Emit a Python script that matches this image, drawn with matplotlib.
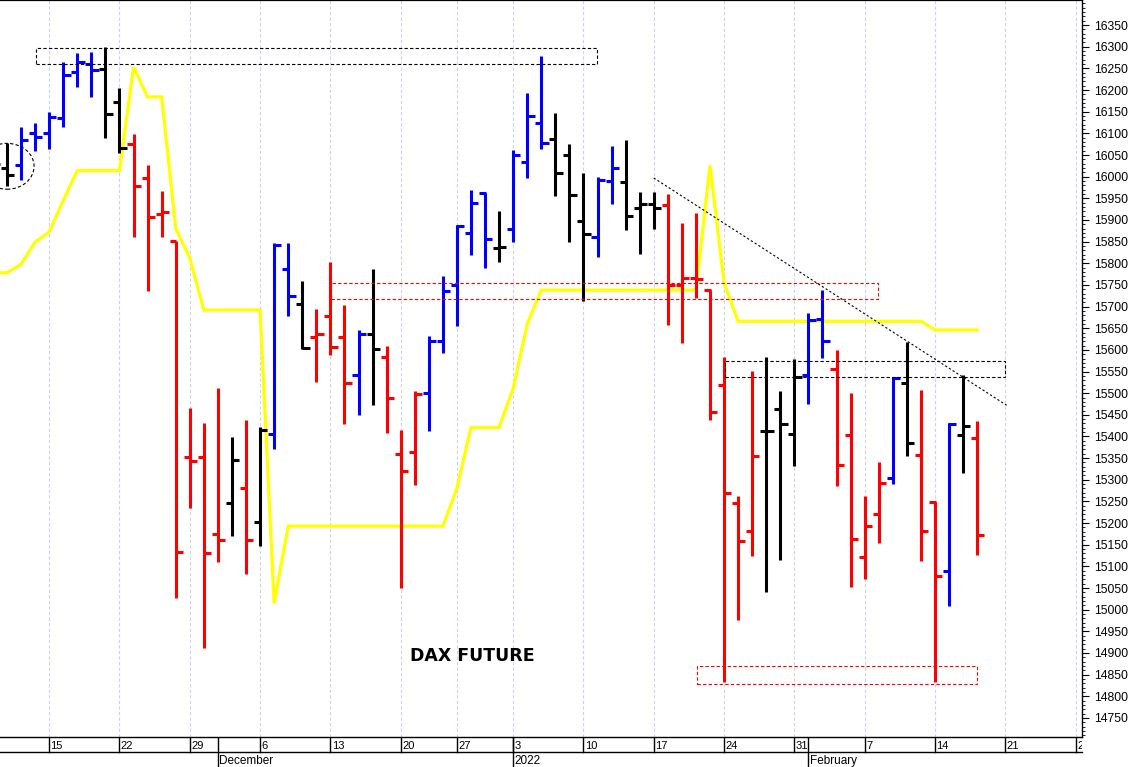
import numpy as np
import pandas as pd
import matplotlib
matplotlib.use('Agg')
import matplotlib.pyplot as plt
from matplotlib.collections import LineCollection
from matplotlib.patches import Rectangle, Ellipse
from matplotlib.ticker import MultipleLocator, FixedLocator

plt.rcParams['font.family'] = ['Liberation Sans', 'DejaVu Sans']

# ---------------- data ----------------
dates = [
    '2021-11-09', '2021-11-10', '2021-11-11', '2021-11-12',
    '2021-11-15', '2021-11-16', '2021-11-17', '2021-11-18', '2021-11-19',
    '2021-11-22', '2021-11-23', '2021-11-24', '2021-11-25', '2021-11-26',
    '2021-11-29', '2021-11-30', '2021-12-01', '2021-12-02', '2021-12-03',
    '2021-12-06', '2021-12-07', '2021-12-08', '2021-12-09', '2021-12-10',
    '2021-12-13', '2021-12-14', '2021-12-15', '2021-12-16', '2021-12-17',
    '2021-12-20', '2021-12-21', '2021-12-22', '2021-12-23',
    '2021-12-27', '2021-12-28', '2021-12-29', '2021-12-30',
    '2022-01-03', '2022-01-04', '2022-01-05', '2022-01-06', '2022-01-07',
    '2022-01-10', '2022-01-11', '2022-01-12', '2022-01-13', '2022-01-14',
    '2022-01-17', '2022-01-18', '2022-01-19', '2022-01-20', '2022-01-21',
    '2022-01-24', '2022-01-25', '2022-01-26', '2022-01-27', '2022-01-28',
    '2022-01-31', '2022-02-01', '2022-02-02', '2022-02-03', '2022-02-04',
    '2022-02-07', '2022-02-08', '2022-02-09', '2022-02-10', '2022-02-11',
    '2022-02-14', '2022-02-15', '2022-02-16', '2022-02-17',
]
opens = [
    16000, 16020, 16027, 16101,
    16102, 16135, 16242, 16260, 16248,
    16173, 16075, 15998, 15914, 15851,
    15353, 15353, 15175, 15246, 15280,
    15202, 15406, 15786, 15706, 15630,
    15678, 15630, 15542, 15637, 15584,
    15359, 15365, 15501, 15620,
    15750, 15869, 15963, 15835,
    15880, 16034, 16123, 16087, 16051,
    15897, 15860, 15990, 15987, 15927,
    15937, 15934, 15750, 15767, 15739,
    15518, 15246, 15181, 15412, 15463,
    15406, 15543, 15672, 15556, 15403,
    15122, 15221, 15304, 15524, 15357,
    15249, 15089, 15403, 15396,
]
highs = [
    16060, 16077, 16115, 16124,
    16150, 16265, 16285, 16288, 16300,
    16204, 16098, 16028, 15968, 15851,
    15465, 15430, 15511, 15398, 15438,
    15422, 15847, 15846, 15760, 15694,
    15802, 15703, 15646, 15786, 15609,
    15416, 15506, 15631, 15770,
    15889, 15969, 15963, 15920,
    16061, 16194, 16278, 16148, 16075,
    16008, 16000, 16071, 16084, 15965,
    15964, 15959, 15894, 15917, 15739,
    15584, 15262, 15552, 15583, 15506,
    15579, 15686, 15738, 15600, 15501,
    15262, 15340, 15537, 15619, 15507,
    15249, 15430, 15542, 15436,
]
lows = [
    15990, 15978, 15992, 16060,
    16063, 16115, 16206, 16184, 16090,
    16055, 15861, 15736, 15860, 15027,
    15234, 14912, 15109, 15170, 15082,
    15147, 15370, 15678, 15601, 15526,
    15588, 15428, 15450, 15473, 15408,
    15050, 15289, 15413, 15592,
    15656, 15819, 15790, 15804,
    15848, 15998, 16064, 15956, 15848,
    15713, 15815, 15938, 15877, 15821,
    15879, 15657, 15617, 15719, 15437,
    14833, 14976, 15125, 15040, 15114,
    15332, 15475, 15582, 15286, 15052,
    15072, 15153, 15290, 15355, 15113,
    14834, 15008, 15315, 15126,
]
closes = [
    16029, 16004, 16084, 16091,
    16137, 16235, 16265, 16246, 16144,
    16067, 15978, 15907, 15918, 15134,
    15343, 15132, 15162, 15346, 15162,
    15415, 15843, 15724, 15604, 15636,
    15606, 15523, 15637, 15601, 15488,
    15320, 15497, 15620, 15737,
    15885, 15939, 15857, 15837,
    16049, 16139, 16077, 16008, 15957,
    15867, 15993, 16020, 15909, 15937,
    15927, 15750, 15767, 15763, 15456,
    15269, 15159, 15356, 15413, 15428,
    15537, 15670, 15620, 15334, 15163,
    15193, 15292, 15535, 15384, 15182,
    15078, 15428, 15424, 15172,
]
# b = blue, k = black, r = red
bar_codes = (
    'bkbb'
    'bbbbk'
    'krrrr'
    'rrrkr'
    'kbbkr'
    'rrbkr'
    'rrbb'
    'bbbk'
    'bbbkk'
    'kbbkk'
    'krrrr'
    'rrrkk'
    'kbbrr'
    'rrbkr'
    'rbkr'
)
stop_line = [
    15778, 15778, 15798, 15849,
    15872, 15945, 16014, 16014, 16014,
    16014, 16253, 16184, 16184, 15881,
    15812, 15692, 15692, 15692, 15692,
    15692, 15015, 15193, 15193, 15193,
    15193, 15193, 15193, 15193, 15193,
    15193, 15193, 15193, 15193,
    15280, 15421, 15421, 15421,
    15511, 15660, 15738, 15738, 15738,
    15738, 15738, 15738, 15738, 15738,
    15738, 15738, 15738, 15738, 16026,
    15755, 15666, 15666, 15666, 15666,
    15666, 15666, 15666, 15666, 15666,
    15666, 15666, 15666, 15666, 15666,
    15646, 15646, 15646, 15646,
]
holidays = ['2021-12-24', '2021-12-31']
month_labels = {'2021-12': 'December', '2022-01': '2022', '2022-02': 'February'}

# annotation levels (price values) and date anchors
top_box = ('2021-11-12', '2022-01-11', 16260, 16297)
red_box = ('2021-12-13', '2022-02-08', 15717, 15755)
right_box = ('2022-01-24', '2022-02-21', 15537, 15574)
low_box = ('2022-01-20', '2022-02-17', 14829, 14869)
trend_pts = (('2022-01-17', 15997), ('2022-02-21', 15472))
ellipse_c = ('2021-11-10', 16024)
title_txt = 'DAX FUTURE'

# ---------------- calendar / positions ----------------
cal = pd.bdate_range('2021-11-09', '2022-03-04')
cal = cal[~cal.isin(pd.to_datetime(holidays))]
pos = {d.strftime('%Y-%m-%d'): i for i, d in enumerate(cal)}
x = np.array([pos[d] for d in dates], dtype=float)

color_map = {'b': '#0000ff', 'k': '#000000', 'r': '#ff0000'}
bar_colors = [color_map[c] for c in bar_codes]

AXW = 1082
XMIN, XMAX = 0.502, 0.502 + AXW / 14.06
YMIN, YMAX = 14706, 16408

fig = plt.figure(figsize=(11.31, 7.67), dpi=100)
ax = fig.add_axes([0, 30 / 767, AXW / 1131, 737 / 767])
ax.set_xlim(XMIN, XMAX)
ax.set_ylim(YMIN, YMAX)

# vertical weekly grid
mondays = [i for i, d in enumerate(cal) if d.weekday() == 0 and XMIN < i < XMAX]
ax.vlines(mondays, YMIN, YMAX, colors='#d2d2ea', linestyles=(0, (3, 2)),
          lw=0.8, zorder=0)

# yellow stop line
ax.plot(x, stop_line, color='#ffff00', lw=2.3, zorder=2, solid_joinstyle='miter')

# OHLC bars
segs, cols = [], []
wl, wr = 0.43, 0.52
for xi, o, h, l, c, col in zip(x, opens, highs, lows, closes, bar_colors):
    segs.append([(xi, l), (xi, h)])
    segs.append([(xi - wl, o), (xi + 0.05, o)])
    segs.append([(xi - 0.05, c), (xi + wr, c)])
    cols += [col] * 3
lc = LineCollection(segs, colors=cols, linewidths=2.2, capstyle='butt', zorder=3)
ax.add_collection(lc)

# annotations
def box(spec, color, dx0=0.04, dx1=-0.03):
    d0, d1, p0, p1 = spec
    x0 = pos[d0] + dx0
    x1 = pos[d1] + dx1
    r = Rectangle((x0, p0), x1 - x0, p1 - p0, fill=False, ec=color,
                  lw=0.8, ls=(0, (3, 2)), zorder=4)
    ax.add_patch(r)

box(top_box, 'black')
box(red_box, '#ff0000', dx0=0.02)
box(right_box, 'black', dx1=0.0)
box(low_box, '#ff0000')

(td0, tp0), (td1, tp1) = trend_pts
ax.plot([pos[td0], pos[td1] + 0.1], [tp0, tp1], color='black', lw=0.8,
        ls=(0, (2, 2)), zorder=4)

ax.add_patch(Ellipse((pos[ellipse_c[0]], ellipse_c[1]), 3.85, 106, fill=False,
                     ec='black', lw=0.8, ls=(0, (3, 2)), zorder=4))

ax.text(pos['2021-12-28'] + 0.07, 14893, title_txt, ha='center', va='center',
        fontsize=12.5, fontweight='bold', family=['DejaVu Sans'], zorder=5)

# axes styling
ax.spines['left'].set_visible(False)
ax.spines['top'].set_linewidth(1.6)
ax.spines['right'].set_linewidth(1.0)
ax.spines['bottom'].set_linewidth(1.0)
ax.set_xticks([])
ax.yaxis.tick_right()
ax.yaxis.set_major_locator(FixedLocator(np.arange(14750, 16351, 50)))
ax.yaxis.set_minor_locator(MultipleLocator(10))
ax.tick_params(axis='y', which='major', direction='out', length=5, width=0.8,
               labelsize=8.8, pad=4)
ax.tick_params(axis='y', which='minor', direction='out', length=2.5, width=0.6)

# bottom date axis (two rows)
axb = fig.add_axes([0, 0, AXW / 1131, 30 / 767])
axb.set_xlim(XMIN, XMAX)
axb.set_ylim(0, 2)
axb.axis('off')
axb.plot([XMIN, XMAX], [1, 1], color='black', lw=1.0, clip_on=False)
for m in mondays:
    axb.plot([m, m], [1, 2], color='black', lw=1.0)
    axb.text(m + 0.1, 1.38, str(cal[m].day), ha='left', va='center',
             fontsize=8, clip_on=True)
seen = set()
for i, d in enumerate(cal):
    key = d.strftime('%Y-%m')
    if key in month_labels and key not in seen and XMIN < i < XMAX:
        seen.add(key)
        axb.plot([i, i], [0, 2], color='black', lw=1.0)
        axb.text(i + 0.1, 0.4, month_labels[key], ha='left', va='center',
                 fontsize=8.5, clip_on=True)

fig.savefig('out.png', dpi=100)
